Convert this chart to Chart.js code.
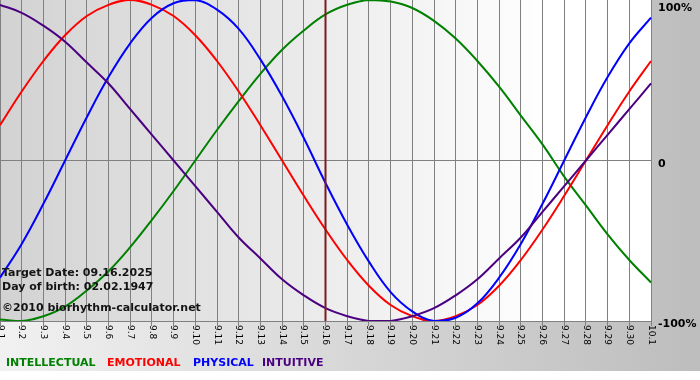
<!DOCTYPE html>
<html><head><meta charset="utf-8">
<script src="https://cdn.jsdelivr.net/npm/chart.js@4.4.1/dist/chart.umd.min.js"></script>
<style>html,body{margin:0;padding:0;background:#fff;}canvas{display:block}</style>
</head><body>
<canvas id="c" width="700" height="380"></canvas>
<script>
const days = ['9.1','9.2','9.3','9.4','9.5','9.6','9.7','9.8','9.9','9.10','9.11','9.12','9.13','9.14','9.15','9.16','9.17','9.18','9.19','9.20','9.21','9.22','9.23','9.24','9.25','9.26','9.27','9.28','9.29','9.30','10.1'];
const intellectual = [-0.99,-1.00,-0.97,-0.91,-0.81,-0.69,-0.54,-0.37,-0.19,0.00,0.19,0.37,0.54,0.69,0.81,0.91,0.97,1.00,0.99,0.95,0.87,0.76,0.62,0.46,0.28,0.10,-0.10,-0.28,-0.46,-0.62,-0.76];
const emotional = [0.22,0.43,0.62,0.78,0.90,0.97,1.00,0.97,0.90,0.78,0.62,0.43,0.22,0.00,-0.22,-0.43,-0.62,-0.78,-0.90,-0.97,-1.00,-0.97,-0.90,-0.78,-0.62,-0.43,-0.22,0.00,0.22,0.43,0.62];
const physical = [-0.73,-0.52,-0.27,0.00,0.27,0.52,0.73,0.89,0.98,1.00,0.94,0.82,0.63,0.40,0.14,-0.14,-0.40,-0.63,-0.82,-0.94,-1.00,-0.98,-0.89,-0.73,-0.52,-0.27,0.00,0.27,0.52,0.73,0.89];
const intuitive = [0.97,0.92,0.84,0.74,0.61,0.48,0.32,0.16,0.00,-0.16,-0.32,-0.48,-0.61,-0.74,-0.84,-0.92,-0.97,-1.00,-1.00,-0.97,-0.92,-0.84,-0.74,-0.61,-0.48,-0.32,-0.16,0.00,0.16,0.32,0.48];
const yTickValues = [-1, 0, 1];
const yTickLabels = ['-100%', '0', '100%'];
const markedDay = '9.16';
const infoLines = ['Target Date: 09.16.2025', 'Day of birth: 02.02.1947', '\u00A92010 biorhythm-calculator.net'];

const FONT = '"DejaVu Sans", Verdana, sans-serif';

const bgPlugin = {
  id: 'bg',
  beforeDraw(chart) {
    const {ctx, chartArea: a, width, height} = chart;
    ctx.save();
    ctx.fillStyle = '#ffffff';
    ctx.fillRect(0, 0, width, height);
    const g = ctx.createLinearGradient(0, 0, width, 0);
    g.addColorStop(0, '#f1f1f1');
    g.addColorStop(1, '#bdbdbd');
    ctx.fillStyle = g;
    ctx.fillRect(0, 0, width, 371);
    const g2 = ctx.createLinearGradient(a.left, 0, a.right, 0);
    g2.addColorStop(0, '#d2d2d2');
    g2.addColorStop(0.85, '#ffffff');
    g2.addColorStop(1, '#ffffff');
    ctx.fillStyle = g2;
    ctx.fillRect(a.left, a.top, a.right - a.left, a.bottom - a.top);
    ctx.restore();
  }
};

const overlayPlugin = {
  id: 'overlay',
  afterDatasetsDraw(chart) {
    const {ctx, chartArea: a, scales} = chart;
    const xs = scales.x;
    const mx = xs.getPixelForValue(days.indexOf(markedDay));
    ctx.save();
    ctx.strokeStyle = '#7d1c1c';
    ctx.lineWidth = 2;
    ctx.beginPath();
    ctx.moveTo(mx, a.top);
    ctx.lineTo(mx, a.bottom);
    ctx.stroke();
    ctx.restore();
  },
  afterDraw(chart) {
    const {ctx, chartArea: a, scales} = chart;
    const xs = scales.x, ys = scales.y;
    ctx.save();
    // info text
    ctx.fillStyle = '#141414';
    ctx.font = 'bold 11px ' + FONT;
    ctx.textAlign = 'left';
    ctx.textBaseline = 'alphabetic';
    const infoY = [276, 290, 311];
    infoLines.forEach((t, i) => ctx.fillText(t, a.left + 2, infoY[i]));
    // y labels (right side)
    ctx.fillStyle = '#000';
    yTickValues.forEach((v, i) => {
      const py = ys.getPixelForValue(v);
      ctx.fillText(yTickLabels[i], a.right + 7, Math.max(py + 6, 11));
    });
    // x labels rotated clockwise
    ctx.font = '9px ' + FONT;
    ctx.textBaseline = 'middle';
    days.forEach((d, i) => {
      const px = xs.getPixelForValue(i);
      ctx.save();
      ctx.translate(px, a.bottom + 4);
      ctx.rotate(Math.PI / 2);
      ctx.fillText(d, 0, 0);
      ctx.restore();
    });
    // legend
    ctx.font = 'bold 11px ' + FONT;
    ctx.textBaseline = 'alphabetic';
    const legendX = [6, 107, 193, 262];
    chart.data.datasets.forEach((ds, i) => {
      ctx.fillStyle = ds.borderColor;
      ctx.fillText(ds.label, legendX[i], 366);
    });
    ctx.restore();
  }
};

new Chart(document.getElementById('c'), {
  type: 'line',
  data: {
    labels: days,
    datasets: [
      {label: 'INTELLECTUAL', data: intellectual, borderColor: '#008000', order: 3},
      {label: 'EMOTIONAL', data: emotional, borderColor: '#ff0000', order: 2},
      {label: 'PHYSICAL', data: physical, borderColor: '#0000ff', order: 1},
      {label: 'INTUITIVE', data: intuitive, borderColor: '#4b0082', order: 0}
    ]
  },
  options: {
    responsive: false,
    animation: false,
    devicePixelRatio: 1,
    layout: {padding: {left: 0, right: 49, top: 0, bottom: 54}},
    elements: {
      line: {borderWidth: 2, tension: 0.4, fill: false},
      point: {radius: 0}
    },
    plugins: {legend: {display: false}, tooltip: {enabled: false}},
    scales: {
      x: {
        type: 'category',
        offset: false,
        border: {display: false},
        grid: {color: '#808080', lineWidth: 1, drawTicks: true, tickLength: 5, tickColor: '#808080'},
        ticks: {display: false, autoSkip: false}
      },
      y: {
        position: 'right',
        min: -1, max: 1,
        border: {display: false},
        grid: {
          drawTicks: false,
          color: ctx => (ctx.tick && ctx.tick.value === 1) ? 'rgba(0,0,0,0)' : '#808080'
        },
        ticks: {display: false, stepSize: 1}
      }
    }
  },
  plugins: [bgPlugin, overlayPlugin]
});
</script>
</body></html>
